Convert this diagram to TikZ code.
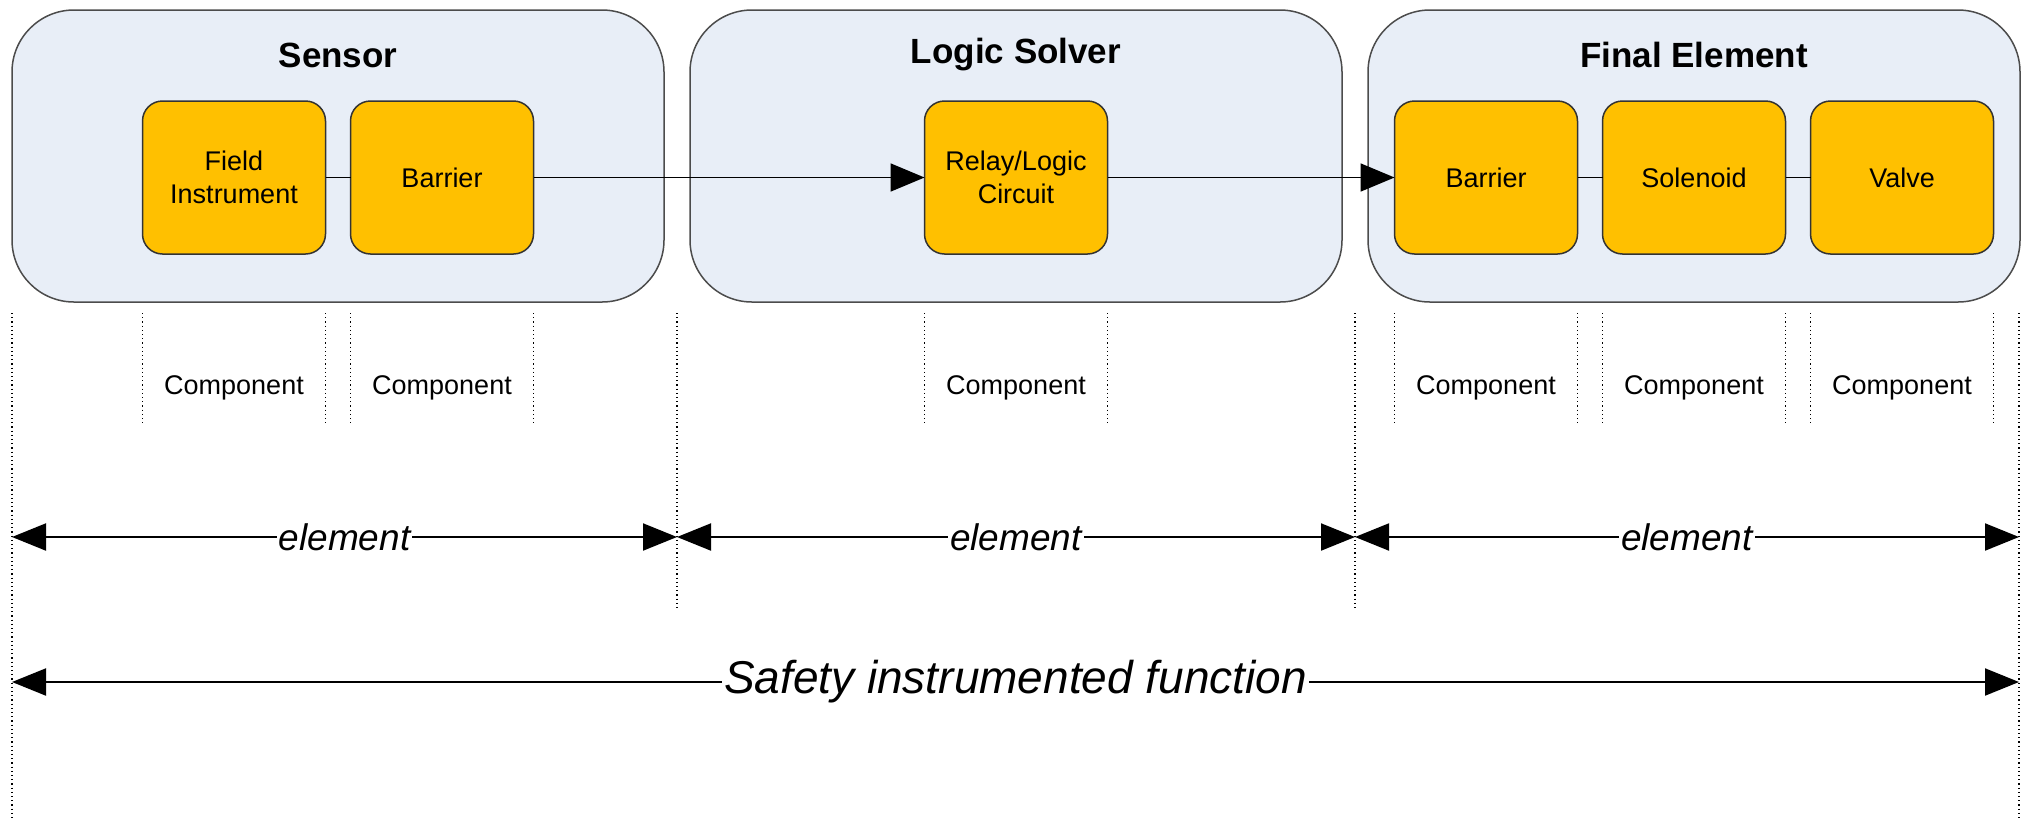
\documentclass[tikz,border=0pt]{standalone}
\usepackage{fontspec}
\setmainfont{Liberation Sans}
\usetikzlibrary{positioning, arrows.meta}
\definecolor{groupfill}{RGB}{232,238,247}
\definecolor{partfill}{RGB}{255,192,0}
\begin{document}
\begin{tikzpicture}[x=1pt, y=-1pt, line width=1.5pt,
    group/.style = {draw=black!70, fill=groupfill, rounded corners=62pt, minimum width=652pt, minimum height=292pt, outer sep=0pt},
    heading/.style = {font=\fontsize{35}{40}\selectfont\bfseries},
    part/.style = {draw=black!80, fill=partfill, rounded corners=20pt, minimum width=183pt, minimum height=153pt, outer sep=0pt, align=center, font=\fontsize{27}{33}\selectfont},
    comp/.style = {inner sep=0pt, font=\fontsize{27}{32}\selectfont},
    tick/.style = {line width=1.2pt, dash pattern=on 1.2pt off 3pt},
    signal/.style = {-{Triangle[length=34pt, width=28pt]}, line width=1.8pt},
    span/.style = {{Triangle[length=34pt, width=27pt]}-{Triangle[length=34pt, width=27pt]}, line width=2pt},
    spanlabel/.style = {fill=white, inner sep=2pt, font=\fontsize{37}{40}\selectfont\itshape},
    siflabel/.style = {fill=white, inner sep=2pt, font=\fontsize{46}{50}\selectfont\itshape}]
    \useasboundingbox (0,0) rectangle (2024,820);

    % subsystems
    \node[group] (sensor) at (338,156) {};
    \node[group, right=26pt of sensor] (logic) {};
    \node[group, right=26pt of logic] (final) {};
    \node[heading] (tsensor) at ([yshift=-45pt]sensor.north) {Sensor};
    \node[heading] (tlogic) at ([yshift=-45pt]logic.north) {Logic Solver};
    \node[heading] (tfinal) at ([yshift=-45pt]final.north) {Final Element};

    % components
    \node[part] (field) at ([xshift=-104pt, yshift=-21.5pt]sensor.center) {Field\\Instrument};
    \node[part, right=25pt of field] (barrierA) {Barrier};
    \node[part] (relay) at ([yshift=-21.5pt]logic.center) {Relay/Logic\\Circuit};
    \node[part] (solenoid) at ([yshift=-21.5pt]final.center) {Solenoid};
    \node[part, left=25pt of solenoid] (barrierB) {Barrier};
    \node[part, right=25pt of solenoid] (valve) {Valve};

    \draw (field) -- (barrierA);
    \draw[signal] (barrierA) -- (relay);
    \draw[signal] (relay) -- (barrierB);
    \draw (barrierB) -- (solenoid);
    \draw (solenoid) -- (valve);

    % component marks
    \draw[tick] ([yshift=-59pt]field.south west) -- ([yshift=-169pt]field.south west) ([yshift=-59pt]field.south east) -- ([yshift=-169pt]field.south east);
    \draw[tick] ([yshift=-59pt]barrierA.south west) -- ([yshift=-169pt]barrierA.south west) ([yshift=-59pt]barrierA.south east) -- ([yshift=-169pt]barrierA.south east);
    \draw[tick] ([yshift=-59pt]relay.south west) -- ([yshift=-169pt]relay.south west) ([yshift=-59pt]relay.south east) -- ([yshift=-169pt]relay.south east);
    \draw[tick] ([yshift=-59pt]barrierB.south west) -- ([yshift=-169pt]barrierB.south west) ([yshift=-59pt]barrierB.south east) -- ([yshift=-169pt]barrierB.south east);
    \draw[tick] ([yshift=-59pt]solenoid.south west) -- ([yshift=-169pt]solenoid.south west) ([yshift=-59pt]solenoid.south east) -- ([yshift=-169pt]solenoid.south east);
    \draw[tick] ([yshift=-59pt]valve.south west) -- ([yshift=-169pt]valve.south west) ([yshift=-59pt]valve.south east) -- ([yshift=-169pt]valve.south east);
    \node[comp] (cfield) at ([yshift=-134pt]field.south) {Component};
    \node[comp] (cbarrierA) at ([yshift=-134pt]barrierA.south) {Component};
    \node[comp] (crelay) at ([yshift=-134pt]relay.south) {Component};
    \node[comp] (cbarrierB) at ([yshift=-134pt]barrierB.south) {Component};
    \node[comp] (csolenoid) at ([yshift=-134pt]solenoid.south) {Component};
    \node[comp] (cvalve) at ([yshift=-134pt]valve.south) {Component};

    % element borders
    \coordinate (s0) at (12,313);
    \coordinate (s1) at (677,313);
    \coordinate (s2) at (1355,313);
    \coordinate (s3) at (2019,313);
    \draw[tick] (s0) -- ++(0,507);
    \draw[tick] (s1) -- ++(0,295);
    \draw[tick] (s2) -- ++(0,295);
    \draw[tick] (s3) -- ++(0,507);

    % spans
    \coordinate (e0) at (12,537);
    \coordinate (e1) at (677,537);
    \coordinate (e2) at (1355,537);
    \coordinate (e3) at (2019,537);
    \draw[span] (e0) -- node[spanlabel] (el0) {element} (e1);
    \draw[span] (e1) -- node[spanlabel] (el1) {element} (e2);
    \draw[span] (e2) -- node[spanlabel] (el2) {element} (e3);
    \coordinate (f0) at (12,682);
    \coordinate (f1) at (2019,682);
    \draw[span] (f0) -- node[siflabel] (sif) {Safety instrumented function} (f1);
\end{tikzpicture}
\end{document}
